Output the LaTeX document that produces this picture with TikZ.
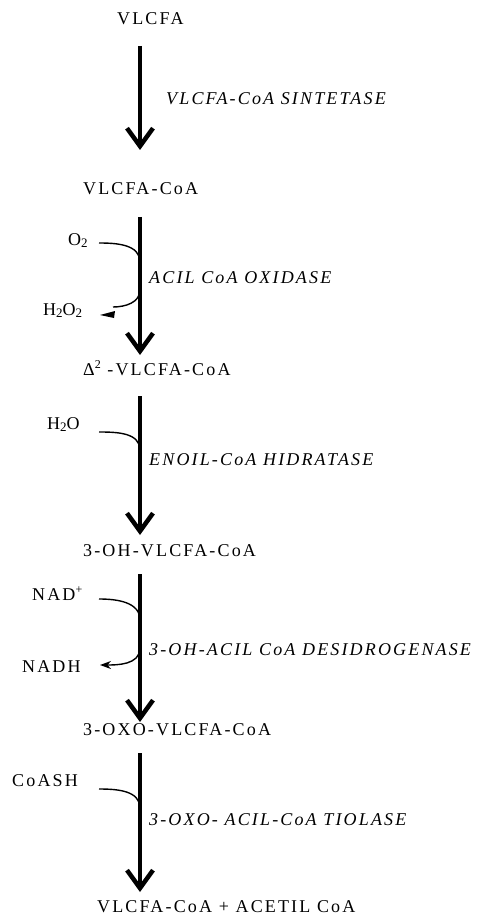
\documentclass[tikz,border=0pt]{standalone}
\usepackage{fontspec}
\setmainfont{Liberation Serif}[LetterSpace=12]
\usetikzlibrary{arrows.meta}
\newcommand{\chsub}[1]{\raisebox{-0.35ex}{\fontsize{13}{13}\selectfont #1}}
\newcommand{\chsup}[1]{\raisebox{0.75ex}{\fontsize{12}{12}\selectfont #1}}
\begin{document}
\begin{tikzpicture}[x=1pt,y=-1pt,
  lbl/.style={anchor=base west, inner sep=0pt, font=\fontsize{18}{20}\selectfont},
  enz/.style={anchor=base west, inner sep=0pt, font=\fontsize{18}{20}\selectfont\itshape},
  mainarrow/.style={line width=4.5pt, -{Straight Barb[length=18pt,width=26pt,line width=4.5pt]}},
  side/.style={line width=1.4pt}]
\useasboundingbox (0,0) rectangle (483,917);
% labels
\node[lbl] (s0) at (117,25) {VLCFA};
\node[enz] (e1) at (166,105) {VLCFA-CoA SINTETASE};
\node[lbl] (s1) at (83,195) {VLCFA-CoA};
\node[lbl] (o2) at (68,245) {O\chsub{2}};
\node[enz] (e2) at (149,283) {ACIL CoA OXIDASE};
\node[lbl] (h2o2) at (43,315) {H\chsub{2}O\chsub{2}};
\node[lbl] (s2) at (83,375) {Δ\chsup{2} -VLCFA-CoA};
\node[lbl] (h2o) at (47,429) {H\chsub{2}O};
\node[enz] (e3) at (149,465) {ENOIL-CoA HIDRATASE};
\node[lbl] (s3) at (83,556) {3-OH-VLCFA-CoA};
\node[lbl] (nad) at (32,600) {NAD\chsup{+}};
\node[enz] (e4) at (149,655) {3-OH-ACIL CoA DESIDROGENASE};
\node[lbl] (nadh) at (22,672) {NADH};
\node[lbl] (s4) at (83,735) {3-OXO-VLCFA-CoA};
\node[lbl] (coash) at (12,786) {CoASH};
\node[enz] (e5) at (149,825) {3-OXO- ACIL-CoA TIOLASE};
\node[lbl] (s5) at (97,912) {VLCFA-CoA + ACETIL CoA};
% arrow ends
\coordinate (a1s) at (140,46);  \coordinate (a1e) at (140,150);
\coordinate (a2s) at (140,217); \coordinate (a2e) at (140,355);
\coordinate (a3s) at (140,396); \coordinate (a3e) at (140,535);
\coordinate (a4s) at (140,574); \coordinate (a4e) at (140,722);
\coordinate (a5s) at (140,753); \coordinate (a5e) at (140,892);
\draw[mainarrow] (a1s) -- (a1e);
\draw[mainarrow] (a2s) -- (a2e);
\draw[mainarrow] (a3s) -- (a3e);
\draw[mainarrow] (a4s) -- (a4e);
\draw[mainarrow] (a5s) -- (a5e);
% side curves
\coordinate (o2s) at (99,243);   \coordinate (o2e) at (140,262);
\coordinate (h2s) at (140,290);  \coordinate (h2e) at (113,307);
\coordinate (ws) at (99,432);    \coordinate (we) at (140,450);
\coordinate (ns) at (99,599);    \coordinate (ne) at (140,620);
\coordinate (hs) at (140,648);   \coordinate (he) at (100,665);
\coordinate (cs) at (99,789);    \coordinate (ce) at (140,808);
\draw[side] (o2s) to[out=0,in=90] (o2e);
\draw[side] (h2s) to[out=-90,in=0] (h2e);
\fill (100,315) -- (115,311) -- (114,318) -- cycle;
\draw[side] (ws) to[out=0,in=90] (we);
\draw[side] (ns) to[out=0,in=90] (ne);
\draw[side,-{Stealth[length=11pt,width=8pt]}] (hs) to[out=-90,in=0] (he);
\draw[side] (cs) to[out=0,in=90] (ce);
\end{tikzpicture}
\end{document}
